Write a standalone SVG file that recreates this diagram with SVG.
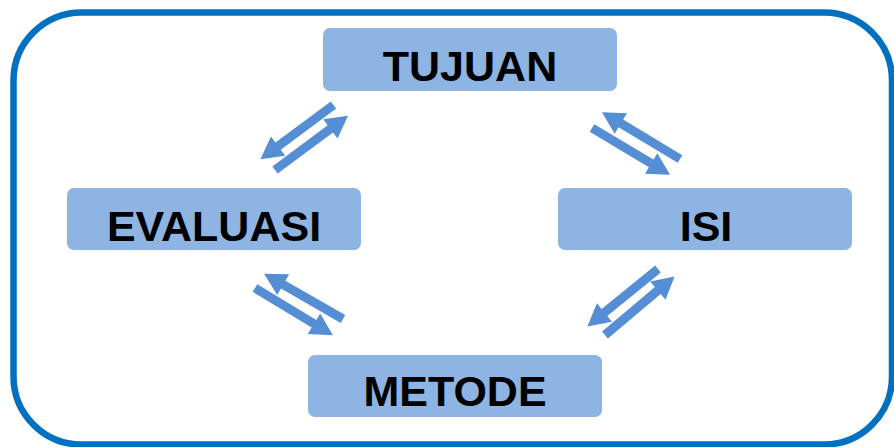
<svg xmlns="http://www.w3.org/2000/svg" xmlns:xlink="http://www.w3.org/1999/xlink" width="894" height="447" viewBox="0 0 894 447">
  <style>
    .box { fill: #8EB4E3; }
    .lbl { font-family: "Liberation Sans", Arial, sans-serif; font-weight: bold; font-size: 43px; fill: #000; text-anchor: middle; }
    .arr { fill: #558ED5; }
  </style>
  <defs>
    <path id="arr" class="arr" d="M0,-4.5 L69,-4.5 L69,-12 L91,0 L69,12 L69,4.5 L0,4.5 Z"/>
  </defs>
  <rect x="13.5" y="12.5" width="878.5" height="432" rx="68" ry="68" fill="#fff" stroke="#0070C0" stroke-width="6.5"/>
  <g id="connectors">
    <use xlink:href="#arr" href="#arr" transform="translate(333.5,105) rotate(143.4)"/>
    <use xlink:href="#arr" href="#arr" transform="translate(275,170) rotate(-36.6)"/>
    <use xlink:href="#arr" href="#arr" transform="translate(680,159) rotate(211)"/>
    <use xlink:href="#arr" href="#arr" transform="translate(592,128) rotate(30.9)"/>
    <use xlink:href="#arr" href="#arr" transform="translate(343,319) rotate(209.9)"/>
    <use xlink:href="#arr" href="#arr" transform="translate(255,288) rotate(31.2)"/>
    <use xlink:href="#arr" href="#arr" transform="translate(658,269) rotate(140.9)"/>
    <use xlink:href="#arr" href="#arr" transform="translate(605,335) rotate(-40.1)"/>
  </g>
  <g id="tujuan">
    <rect class="box" x="323" y="28" width="294" height="63" rx="7"/>
    <text class="lbl" x="470" y="81">TUJUAN</text>
  </g>
  <g id="evaluasi">
    <rect class="box" x="67" y="188" width="294" height="62" rx="7"/>
    <text class="lbl" x="214" y="241">EVALUASI</text>
  </g>
  <g id="isi">
    <rect class="box" x="558" y="188" width="294" height="62" rx="7"/>
    <text class="lbl" x="706" y="241">ISI</text>
  </g>
  <g id="metode">
    <rect class="box" x="308" y="355" width="294" height="62" rx="7"/>
    <text class="lbl" x="455" y="406">METODE</text>
  </g>
</svg>
